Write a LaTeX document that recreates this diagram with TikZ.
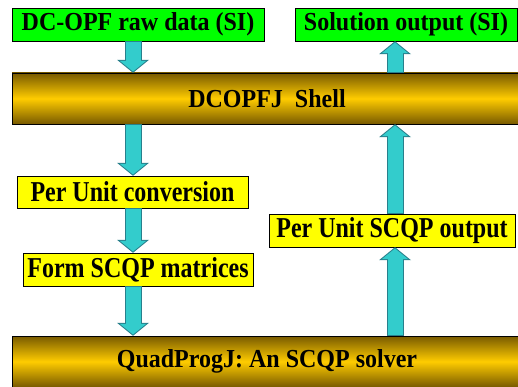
\documentclass[tikz,border=0pt]{standalone}
\usepackage{fontspec}
\setmainfont{Liberation Serif}
\usetikzlibrary{arrows.meta}
\definecolor{boxgreen}{RGB}{0,255,0}
\definecolor{boxyellow}{RGB}{255,255,0}
\definecolor{arrowfill}{RGB}{51,204,204}
\definecolor{arrowline}{RGB}{40,128,140}
\definecolor{bardark}{RGB}{120,90,0}
\definecolor{barlight}{RGB}{255,204,0}
\newcommand\tallText[2]{\scalebox{1}[#1]{#2}}
\tikzset{
  boxtext/.style={font=\fontsize{24}{28}\bfseries\selectfont, inner sep=0pt},
  greenbox/.style={boxtext, draw=black, fill=boxgreen, minimum height=33pt},
  yellowbox/.style={boxtext, draw=black, fill=boxyellow, minimum height=32pt},
  goldbar/.style={boxtext, draw=black, top color=bardark, bottom color=bardark, middle color=barlight, minimum width=510pt, minimum height=51pt},
  fatarrow/.style={draw=arrowline, line width=17pt,
    -{Triangle[width=32pt,length=13pt,line width=0pt]},
    postaction={draw=arrowfill, line width=15pt,
      -{Triangle[width=26.3pt,length=10.7pt,line width=0pt]},
      shorten >=1.3pt, shorten <=0.5pt}}
}
\begin{document}
\begin{tikzpicture}[x=1pt,y=-1pt]
\useasboundingbox (0,0) rectangle (518,387);
\clip (0,0) rectangle (518,387);
\fill[white] (0,0) rectangle (518,387);

\coordinate (lx) at (133,0);
\coordinate (rx) at (395,0);

% boxes
\node [greenbox, minimum width=252pt] (raw) at (138,24.5) {\tallText{1.08}{DC-OPF raw data (SI)}};
\node [greenbox, minimum width=222pt] (sol) at (406,24.5) {\tallText{1.08}{Solution output (SI)}};
\node [goldbar] (shell) at (267,98.5) {\tallText{1.08}{DCOPFJ\ \ Shell}};
\node [yellowbox, minimum width=231pt] (conv) at (132.5,192) {\tallText{1.2}{Per Unit conversion}};
\node [yellowbox, minimum width=230pt, minimum height=33pt] (form) at (138,269.5) {\tallText{1.2}{Form SCQP matrices}};
\node [yellowbox, minimum width=246pt, minimum height=33pt] (out) at (392,230.5) {\tallText{1.2}{Per Unit SCQP output}};
\node [goldbar] (quad) at (267,361.5) {\tallText{1.08}{QuadProgJ: An SCQP solver}};

% arrows
\draw [fatarrow] (raw.south -| lx) -- (shell.north -| lx);
\draw [fatarrow] (shell.south -| lx) -- (conv.north -| lx);
\draw [fatarrow] (conv.south -| lx) -- (form.north -| lx);
\draw [fatarrow] (form.south -| lx) -- (quad.north -| lx);
\draw [fatarrow] (quad.north -| rx) -- (out.south -| rx);
\draw [fatarrow] (out.north -| rx) -- (shell.south -| rx);
\draw [fatarrow] (shell.north -| rx) -- (sol.south -| rx);
\end{tikzpicture}
\end{document}
